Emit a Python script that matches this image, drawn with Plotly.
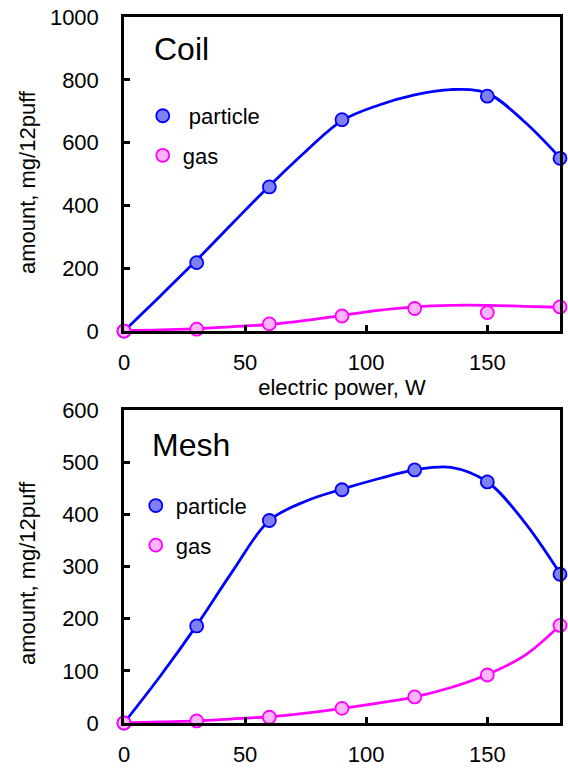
import plotly.graph_objects as go
from plotly.subplots import make_subplots

# ---- data ----
power = [0, 30, 60, 90, 120, 150, 180]

coil_particle_x = [0, 30, 60, 90, 150, 180]
coil_particle = [0, 218, 459, 673, 748, 550]
coil_gas = [0, 6, 23, 48, 72, 59, 77]

mesh_particle = [0, 186, 388, 447, 485, 462, 285]
mesh_gas = [0, 4, 11, 28, 50, 92, 187]

# smooth curves as drawn in the picture
curve_x = [0, 15, 30, 45, 60, 75, 90, 105, 120, 135, 150, 165, 180]
coil_particle_curve = [0, 112, 226, 345, 462, 572, 670, 719, 752, 769, 757, 669, 552]
coil_gas_curve = [2, 4, 8, 14, 21, 34, 50, 66, 77, 82, 82, 79, 76]
mesh_particle_curve = [0, 90, 187, 292, 388, 425, 448, 468, 485, 490, 462, 387, 287]
mesh_gas_curve = [0, 2, 4, 8, 12, 19, 28, 38, 50, 68, 93, 128, 187]

x_ticks = [0, 50, 100, 150]
coil_y_ticks = [0, 200, 400, 600, 800, 1000]
mesh_y_ticks = [0, 100, 200, 300, 400, 500, 600]

BLUE = "#0000FF"
BLUE_FILL = "#7F7FF6"
MAG = "#FF00FF"
MAG_FILL = "#FFB4FF"
FONT = "Liberation Sans, Arial, sans-serif"

fig = make_subplots(rows=2, cols=1, vertical_spacing=0.1)

def add_panel(row, px, py, gx, gy, pcurve, gcurve, legend, pname):
    fig.add_trace(go.Scatter(x=curve_x, y=pcurve, mode="lines", line=dict(color=BLUE, width=2.8, shape="spline"),
                             showlegend=False, hoverinfo="skip"), row=row, col=1)
    fig.add_trace(go.Scatter(x=curve_x, y=gcurve, mode="lines", line=dict(color=MAG, width=2.8, shape="spline"),
                             showlegend=False, hoverinfo="skip"), row=row, col=1)
    fig.add_trace(go.Scatter(x=px, y=py, mode="markers", name=pname, legend=legend, legendgroup=legend + "p",
                             marker=dict(size=13, color=BLUE_FILL, line=dict(color=BLUE, width=1.8)),
                             cliponaxis=False), row=row, col=1)
    fig.add_trace(go.Scatter(x=gx, y=gy, mode="markers", name="gas", legend=legend, legendgroup=legend + "g",
                             marker=dict(size=13, color=MAG_FILL, line=dict(color=MAG, width=1.8)),
                             cliponaxis=False), row=row, col=1)

add_panel(1, coil_particle_x, coil_particle, power, coil_gas, coil_particle_curve, coil_gas_curve,
          "legend", "\u00a0particle")
add_panel(2, power, mesh_particle, power, mesh_gas, mesh_particle_curve, mesh_gas_curve,
          "legend2", "particle")

axis_common = dict(showline=True, linecolor="black", linewidth=2.5, mirror=True, ticks="inside",
                   ticklen=6, tickwidth=2.5, tickcolor="black", showgrid=False, zeroline=False,
                   tickfont=dict(family=FONT, size=22, color="black"))

fig.update_xaxes(range=[0, 180], tickvals=x_ticks, ticklabelstandoff=10, **axis_common)
fig.update_yaxes(ticklabelstandoff=18, **axis_common)
fig.update_yaxes(range=[0, 1000], tickvals=coil_y_ticks, row=1, col=1)
fig.update_yaxes(range=[0, 600], tickvals=mesh_y_ticks, row=2, col=1)
fig.update_xaxes(title=dict(text="electric power, W", font=dict(family=FONT, size=22, color="black"), standoff=2),
                 row=1, col=1)

fig.update_layout(
    width=568, height=772,
    margin=dict(l=124, r=5, t=17, b=38),
    paper_bgcolor="white", plot_bgcolor="white",
    font=dict(family=FONT, size=22, color="black"),
    xaxis=dict(domain=[0, 1]), yaxis=dict(domain=[0.5551, 1.0]),
    xaxis2=dict(domain=[0, 1]), yaxis2=dict(domain=[0.0, 0.4435]),
    legend=dict(x=0.043, y=0.8896, xanchor="left", yanchor="top", bgcolor="rgba(0,0,0,0)",
                tracegroupgap=8, itemwidth=30, font=dict(family=FONT, size=22, color="black")),
    legend2=dict(x=0.027, y=0.3375, xanchor="left", yanchor="top", bgcolor="rgba(0,0,0,0)",
                 tracegroupgap=8, itemwidth=30, font=dict(family=FONT, size=22, color="black")),
    annotations=[
        dict(text="Coil", xref="x domain", yref="y domain", x=0.064, y=0.897, xanchor="left", yanchor="middle",
             showarrow=False, font=dict(family=FONT, size=32, color="black")),
        dict(text="Mesh", xref="x2 domain", yref="y2 domain", x=0.06, y=0.888, xanchor="left", yanchor="middle",
             showarrow=False, font=dict(family=FONT, size=32, color="black")),
        dict(text="amount, mg/12puff", xref="paper", yref="paper", x=-0.221, y=0.7657, textangle=-90,
             xanchor="center", yanchor="middle", showarrow=False, font=dict(family=FONT, size=22, color="black")),
        dict(text="amount, mg/12puff", xref="paper", yref="paper", x=-0.221, y=0.212, textangle=-90,
             xanchor="center", yanchor="middle", showarrow=False, font=dict(family=FONT, size=22, color="black")),
    ],
)

fig.write_html("out.html", config={"displayModeBar": False},
               post_script="document.body.style.margin='0px';document.body.style.overflow='hidden';")
